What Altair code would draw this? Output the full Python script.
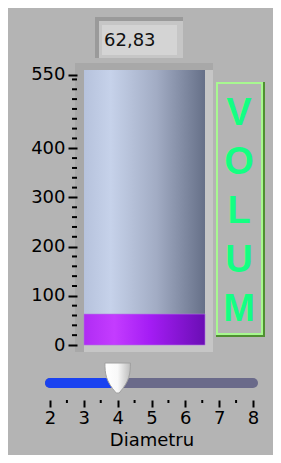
import altair as alt
import pandas as pd

# ---- data ----
volume = [62.83]                      # tank value (shown as 62,83)
diameter = [4.0]                      # slider value
volume_ticks = [0, 100, 200, 300, 400, 550]
volume_minor = [20, 40, 60, 80, 120, 140, 160, 180, 220, 240, 260, 280,
                320, 340, 360, 380, 420, 440, 460, 480, 500, 520, 540]
volume_domain = [0, 550]
diam_ticks = [2, 3, 4, 5, 6, 7, 8]
diam_minor = [2.5, 3.5, 4.5, 5.5, 6.5, 7.5]
diam_domain = [2, 8]
tank_title = ["V", "O", "L", "U", "M"]
x_title = "Diametru"

FONT = "DejaVu Sans"
BG = "#b4b4b4"

df_val = pd.DataFrame({"volume": volume, "diameter": diameter,
                       "vbase": [volume_domain[0]], "dlo": [diam_domain[0]]})
df_vminor = pd.DataFrame({"t": volume_minor})
df_dminor = pd.DataFrame({"t": diam_minor})
df_track = pd.DataFrame({"lo": [diam_domain[0]], "hi": [diam_domain[1]]})
df_letters = pd.DataFrame({"letter": tank_title})
one = pd.DataFrame({"k": [0]})

ysc = alt.Scale(domain=volume_domain, range=[337, 66.5], nice=False, zero=False)
xsc = alt.Scale(domain=diam_domain, range=[42, 245], nice=False, zero=False)


def grad(stops, vertical=False):
    g = {"gradient": "linear", "x1": 0, "x2": 1, "y1": 0, "y2": 0}
    if vertical:
        g = {"gradient": "linear", "x1": 0, "x2": 0, "y1": 0, "y2": 1}
    g["stops"] = [{"offset": o, "color": c} for o, c in stops]
    return g


def box(x, x2, y, y2, **kw):
    return alt.Chart(one).mark_rect(**kw).encode(
        x=alt.value(x), x2=alt.value(x2), y=alt.value(y), y2=alt.value(y2))


# numeric indicator
num_outer = box(87, 175, 9, 50, fill="#9a9a9a")
num_light = box(91, 175, 13, 50, fill="#c6c6c6")
num_inner = box(94, 169, 17, 47, fill="#d4d4d4")
num_text = alt.Chart(df_val).transform_calculate(
    lbl="replace(format(datum.volume, '.2f'), '.', ',')"
).mark_text(align="left", baseline="middle", font=FONT, fontSize=18,
            color="#111111").encode(
    x=alt.value(96), y=alt.value(33), text="lbl:N")

# tank frame
tank_outer = box(67, 205, 55, 344, fill="#a8a8a8")
tank_light = box(76, 205, 62, 344, fill="#c6c6c6")
tank_empty = box(76, 197, 62, 337, fill=grad([(0, "#b6c2dc"), (0.22, "#c6d2ea"),
                                               (0.6, "#a2acc4"), (1, "#667088")]))
tank_fill = alt.Chart(df_val).mark_rect(
    fill=grad([(0, "#b02cf4"), (0.25, "#c43cff"), (0.55, "#a41cf4"), (1, "#6a0eb4")]),
    stroke="#b070e0", strokeWidth=0.6
).encode(
    x=alt.value(76), x2=alt.value(197),
    y=alt.Y("volume:Q", scale=ysc,
            axis=alt.Axis(values=volume_ticks, orient="left", offset=-69,
                          domain=False, grid=False, tickSize=9, tickWidth=2,
                          tickColor="#000000", labelFont=FONT, labelFontSize=18,
                          labelColor="#000000", labelPadding=3, title=None,
                          labelFlush=False, labelOverlap=False, zindex=1)),
    y2="vbase:Q")
tank_minor = alt.Chart(df_vminor).mark_rule(color="#000000", strokeWidth=2).encode(
    y=alt.Y("t:Q", scale=ysc, axis=None), x=alt.value(64), x2=alt.value(69))

# VOLUM label box
vol_dark = box(209, 256, 75, 328, fill=BG, stroke="#4f8f32", strokeWidth=2)
vol_light = box(209, 254, 75, 326, fill=BG, stroke="#a8f890", strokeWidth=2)
vol_letters = alt.Chart(df_letters).mark_text(
    font="Liberation Sans", fontWeight="bold", fontSize=38, color="#14ff82",
    baseline="middle", align="center"
).encode(
    x=alt.value(231),
    y=alt.Y("letter:N", sort=None, axis=None,
            scale=alt.Scale(type="point", range=[106, 302], padding=0)),
    text="letter:N")

# slider
track = alt.Chart(df_track).mark_rule(color="#6a6a8a", strokeWidth=10,
                                      strokeCap="round").encode(
    x=alt.X("lo:Q", scale=xsc,
            axis=alt.Axis(values=diam_ticks, format="d", orient="bottom",
                          offset=-55, domain=False, grid=False, tickSize=7,
                          tickWidth=2, tickColor="#000000", labelFont=FONT,
                          labelFontSize=18, labelColor="#000000", labelPadding=2,
                          title=x_title, titleFont=FONT, titleFontSize=18,
                          titleFontWeight="normal", titleColor="#000000",
                          titlePadding=4, labelFlush=False, zindex=1)),
    x2="hi:Q", y=alt.value(375))
track_fill = alt.Chart(df_val).mark_rule(color="#1a42f0", strokeWidth=10,
                                         strokeCap="round").encode(
    x=alt.X("dlo:Q", scale=xsc, axis=None), x2="diameter:Q", y=alt.value(375))
slider_minor = alt.Chart(df_dminor).mark_rule(color="#000000", strokeWidth=2).encode(
    x=alt.X("t:Q", scale=xsc, axis=None), y=alt.value(392), y2=alt.value(395))
thumb = alt.Chart(df_val).mark_point(
    shape="M -0.85 -1 L 0.85 -1 C 0.85 -0.3 0.8 0.2 0.1 1 L -0.1 1 C -0.8 0.2 -0.85 -0.3 -0.85 -1 Z",
    size=900, filled=True,
    fill=grad([(0, "#ffffff"), (0.5, "#f8f8f8"), (1, "#bcbcbc")]),
    stroke="#a0a0a0", strokeWidth=1, opacity=1
).encode(x=alt.X("diameter:Q", scale=xsc, axis=None), y=alt.value(370))

chart = alt.layer(
    num_outer, num_light, num_inner, num_text,
    tank_outer, tank_light, tank_empty, tank_fill, tank_minor,
    vol_dark, vol_light, vol_letters,
    track, track_fill, slider_minor, thumb
).resolve_scale(y="independent", x="independent").properties(
    width=265, height=447, padding=0,
    autosize=alt.AutoSizeParams(type="none"),
    background=BG
).configure_view(stroke=None)

chart.save("out.html", embed_options={"renderer": "svg", "actions": False})
